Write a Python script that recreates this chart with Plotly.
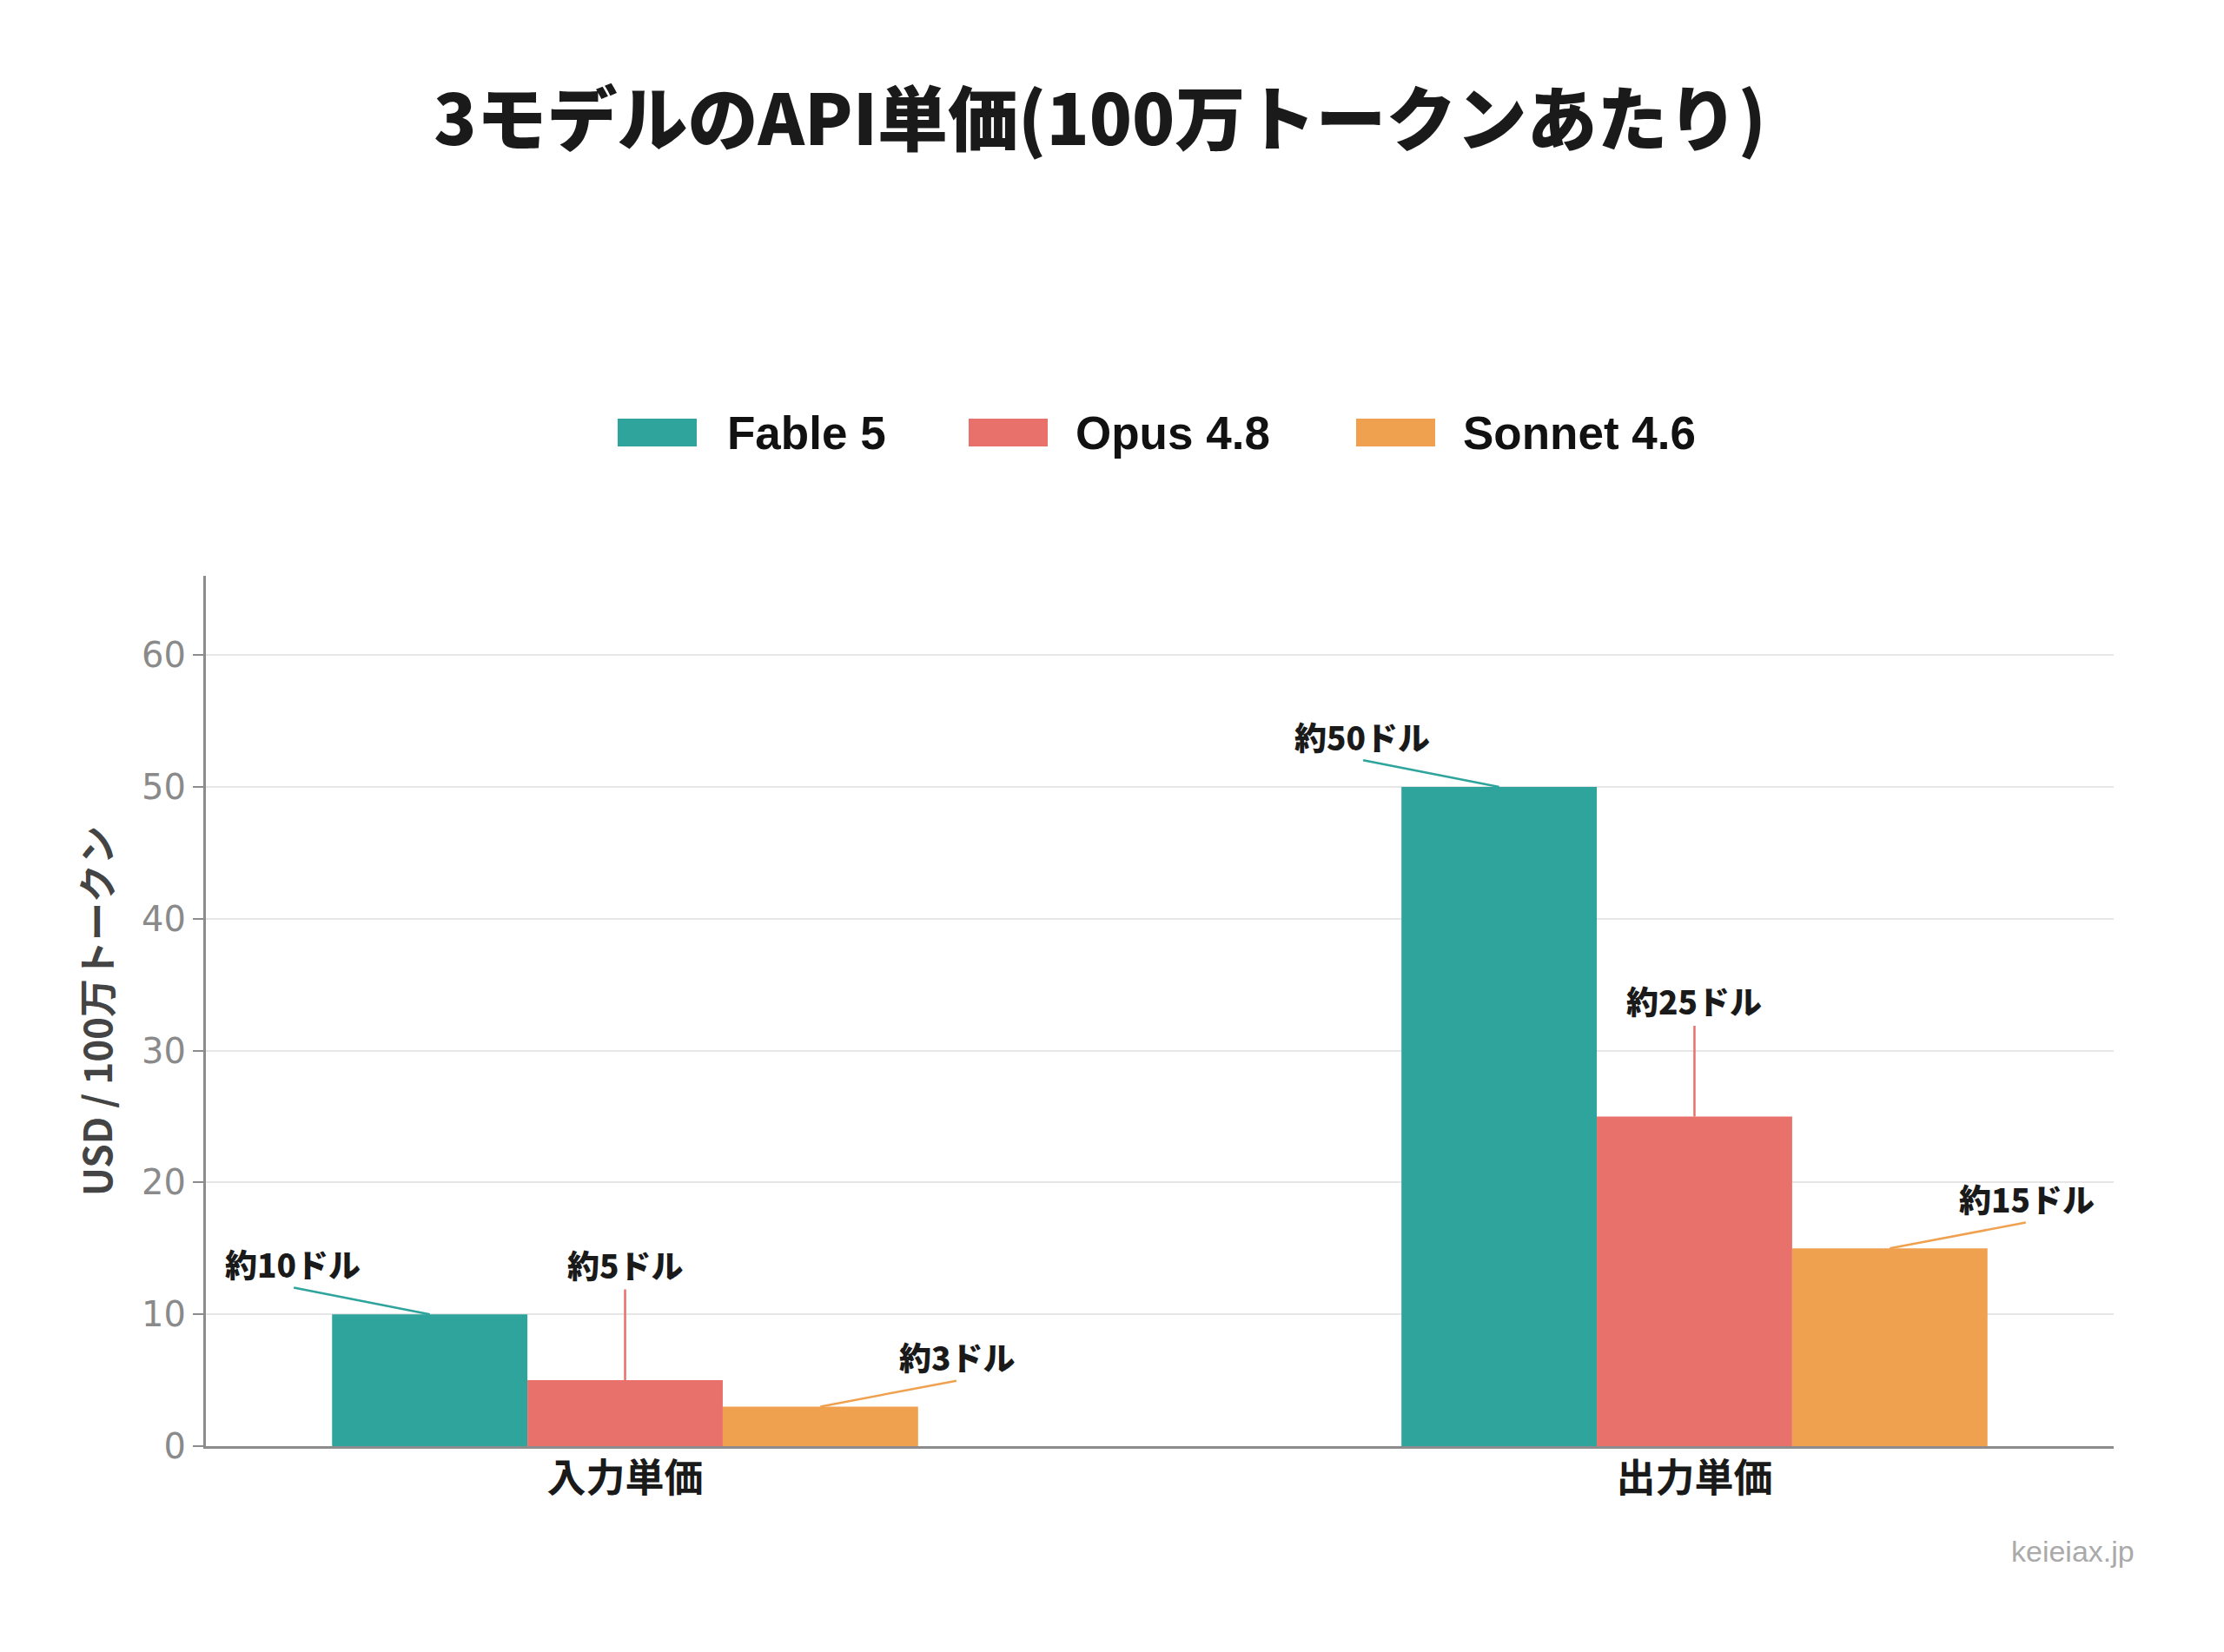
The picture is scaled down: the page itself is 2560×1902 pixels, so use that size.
import plotly.graph_objects as go

# ---- data ----
categories = ["入力単価", "出力単価"]
series_names = ["Fable 5", "Opus 4.8", "Sonnet 4.6"]
fable_values = [10, 50]
opus_values = [5, 25]
sonnet_values = [3, 15]
fable_labels = ["約10ドル", "約50ドル"]
opus_labels = ["約5ドル", "約25ドル"]
sonnet_labels = ["約3ドル", "約15ドル"]
y_tick_values = [0, 10, 20, 30, 40, 50, 60]
title_text = "3モデルのAPI単価(100万トークンあたり)"
y_title = "USD / 100万トークン"
watermark = "keieiax.jp"

# ---- styling ----
colors = ["#2EA49C", "#E8716B", "#F0A150"]
W, H = 2560, 1902
L, R, T, B = 237, 127, 663, 237
PW, PH = W - L - R, H - T - B
BARGAP = 0.452
CJK = "Noto Sans CJK JP"
LATIN = "Liberation Sans, Arial, Noto Sans CJK JP"
label_offsets = [(-158, -58), (0, -133), (158, -57)]
LINE_GAP = 27  # gap between label centre and start of leader line

values = [fable_values, opus_values, sonnet_values]
labels = [fable_labels, opus_labels, sonnet_labels]

fig = go.Figure()
for name, vals, col in zip(series_names, values, colors):
    fig.add_trace(go.Bar(name=name, x=categories, y=vals, marker=dict(color=col, line=dict(width=0)),
                         showlegend=False))

annotations = []
nser = len(series_names)
bw = (1 - BARGAP) / nser
for j, (vals, labs, col) in enumerate(zip(values, labels, colors)):
    for i, (v, lab) in enumerate(zip(vals, labs)):
        xpos = i + (j - (nser - 1) / 2) * bw
        ax, ay = label_offsets[j]
        # leader line
        annotations.append(dict(
            x=xpos, y=v, xref="x", yref="y", text="", showarrow=True,
            arrowhead=0, arrowwidth=2.5, arrowcolor=col, ax=ax, ay=ay + LINE_GAP,
            standoff=0, startstandoff=0,
        ))
        # label text
        annotations.append(dict(
            x=xpos, y=v, xref="x", yref="y", text=lab, showarrow=False,
            xshift=ax, yshift=-ay, xanchor="center", yanchor="middle",
            font=dict(family=CJK, size=37, color="#1a1a1a", weight=900),
        ))

# custom legend (large swatches)
def px_to_paper_x(px):
    return (px - L) / PW

def py_to_paper_y(py):
    return (H - B - py) / PH

swatch_left = [711, 1115, 1561]
text_left = [835, 1236, 1682]
legend_cy = 498
shapes = []
for name, col, sx, tx in zip(series_names, colors, swatch_left, text_left):
    shapes.append(dict(type="rect", xref="paper", yref="paper",
                       x0=px_to_paper_x(sx), x1=px_to_paper_x(sx + 91),
                       y0=py_to_paper_y(legend_cy + 16), y1=py_to_paper_y(legend_cy - 16),
                       fillcolor=col, line=dict(width=0)))
    annotations.append(dict(x=px_to_paper_x(tx), y=py_to_paper_y(legend_cy), xref="paper", yref="paper",
                            text=name, showarrow=False, xanchor="left", yanchor="middle",
                            font=dict(family=LATIN, size=53, color="#111111", weight=700)))

annotations.append(dict(x=px_to_paper_x(2459), y=py_to_paper_y(1786), xref="paper", yref="paper",
                        text=watermark, showarrow=False, xanchor="right", yanchor="middle",
                        font=dict(family="Liberation Sans, Arial", size=34, color="#aaaaaa")))

fig.update_layout(
    width=W, height=H,
    margin=dict(l=L, r=R, t=T, b=B, autoexpand=False),
    paper_bgcolor="white", plot_bgcolor="white",
    barmode="group", bargap=BARGAP, bargroupgap=0,
    title=dict(text=title_text, x=1266 / W, xanchor="center", y=1 - 139 / H, yanchor="middle",
               font=dict(family=CJK, size=81, color="#1a1a1a", weight=900)),
    annotations=annotations, shapes=shapes,
    showlegend=False,
)
fig.update_xaxes(
    range=[-0.392, 1.392], showline=True, linecolor="#8c8c8c", linewidth=3,
    showgrid=False, ticks="", ticklabelstandoff=-4,
    tickfont=dict(family=CJK, size=45, color="#1a1a1a", weight=700),
)
fig.update_yaxes(
    range=[0, 66], tickvals=y_tick_values, showline=True, linecolor="#8c8c8c", linewidth=3,
    showgrid=True, gridcolor="#e6e6e6", gridwidth=2, zeroline=False,
    ticks="outside", ticklen=12, tickwidth=2, tickcolor="#8c8c8c",
    tickfont=dict(family="DejaVu Sans", size=40, color="#8a8a8a"),
    title=dict(text=y_title, standoff=20, font=dict(family=CJK, size=44, color="#444444", weight=700)),
)

fig.write_html("out.html")
